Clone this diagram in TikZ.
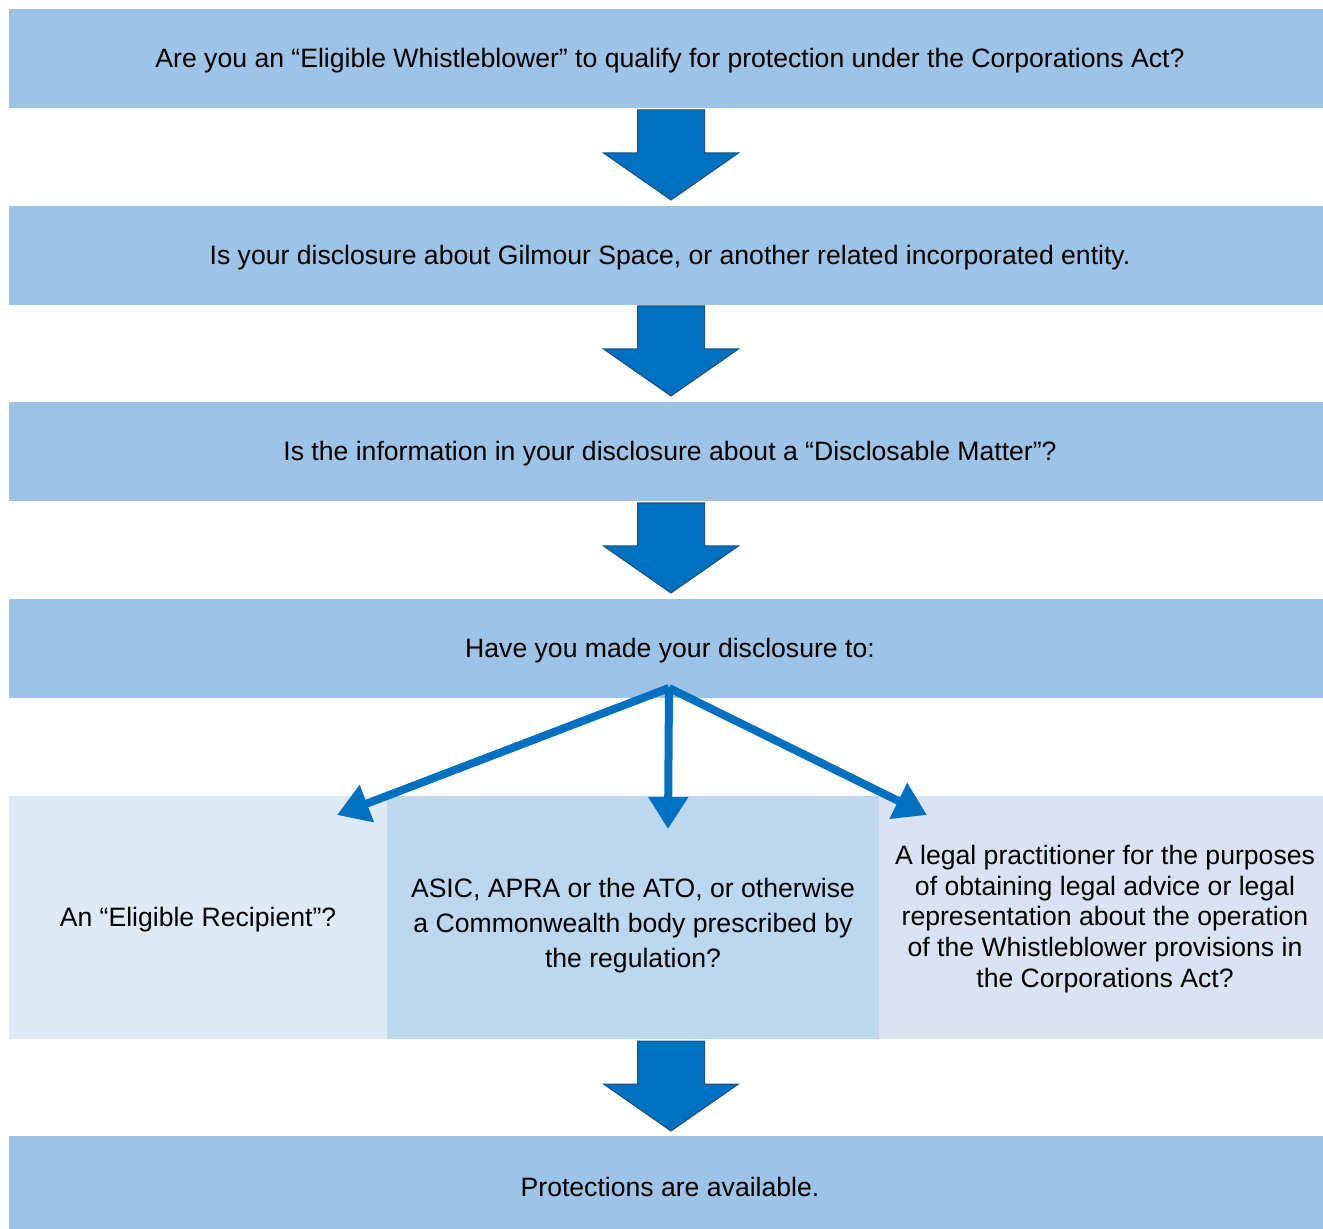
\documentclass[tikz,border=0pt]{standalone}
\usepackage{fontspec}
\setmainfont{Liberation Sans}
\usetikzlibrary{arrows.meta,calc}
\definecolor{bandblue}{HTML}{9DC3E6}
\definecolor{leftbox}{HTML}{DEEAF6}
\definecolor{midbox}{HTML}{BDD7EE}
\definecolor{rightbox}{HTML}{DAE3F3}
\definecolor{arrowblue}{HTML}{0070C0}
\definecolor{arrowedge}{HTML}{1F4E79}
\tikzset{
  band/.style={fill=bandblue, draw=none, minimum width=657pt, minimum height=49.5pt, inner sep=0pt, anchor=north west},
  sub/.style={draw=none, minimum height=121.5pt, inner sep=0pt, anchor=north west},
  lbl/.style={inner sep=0pt, align=center, anchor=center, font=\fontsize{13.3}{15}\selectfont},
  fan/.style={draw=arrowblue, line width=4pt, -{Triangle[length=16pt,width=19pt]}},
  blockarrow/.style={fill=arrowblue, draw=arrowedge, line width=0.5pt, line join=miter}
}
\newcommand{\downblock}[1]{%
  \path[blockarrow] ($(#1)+(-33.5,2)$) -- ($(#1)+(33.5,2)$) -- ($(#1)+(33.5,45)$) -- ($(#1)+(67.5,45)$)
    -- ($(#1)+(0,92)$) -- ($(#1)+(-67.5,45)$) -- ($(#1)+(-33.5,45)$) -- cycle;}
\begin{document}
\begin{tikzpicture}[x=0.5pt,y=-0.5pt]
\useasboundingbox (0,0) rectangle (1323,1229);
\node[band] (q1) at (9,9) {};
\node[band] (q2) at (9,206) {};
\node[band] (q3) at (9,402) {};
\node[band] (q4) at (9,599) {};
\node[band, minimum height=51pt] (q5) at (9,1136) {};
\node[lbl] (l1) at (670,61) {Are you an “Eligible Whistleblower” to qualify for protection under the Corporations Act?};
\node[lbl] (l2) at (670,258) {Is your disclosure about Gilmour Space, or another related incorporated entity.};
\node[lbl] (l3) at (670,454) {Is the information in your disclosure about a “Disclosable Matter”?};
\node[lbl] (l4) at (670,651) {Have you made your disclosure to:};
\node[lbl] (l5) at (670,1187) {Protections are available.};
\node[sub, fill=leftbox, minimum width=189pt] (r1) at (9,796) {};
\node[sub, fill=midbox, minimum width=246pt] (r2) at (387,796) {};
\node[sub, fill=rightbox, minimum width=222pt] (r3) at (879,796) {};
\node[lbl] (t1) at (198,920) {An “Eligible Recipient”?};
\node[lbl, font=\fontsize{13.3}{17.5}\selectfont] (t2) at (633,926) {ASIC, APRA or the ATO, or otherwise\\a Commonwealth body prescribed by\\the regulation?};
\node[lbl, font=\fontsize{13.3}{15.3}\selectfont] (t3) at (1105,919) {A legal practitioner for the purposes\\of obtaining legal advice or legal\\representation about the operation\\of the Whistleblower provisions in\\the Corporations Act?};
\coordinate (a1) at (671,108);
\coordinate (a2) at (671,304);
\coordinate (a3) at (671,501);
\coordinate (a4) at (671,1039);
\downblock{a1}
\downblock{a2}
\downblock{a3}
\downblock{a4}
\coordinate (hub) at (669,688);
\coordinate (tl) at (337,815);
\coordinate (tm) at (668,829);
\coordinate (tr) at (927,815);
\draw[fan] (hub) -- (tl);
\draw[fan] (hub) -- (tm);
\draw[fan] (hub) -- (tr);
\end{tikzpicture}
\end{document}
